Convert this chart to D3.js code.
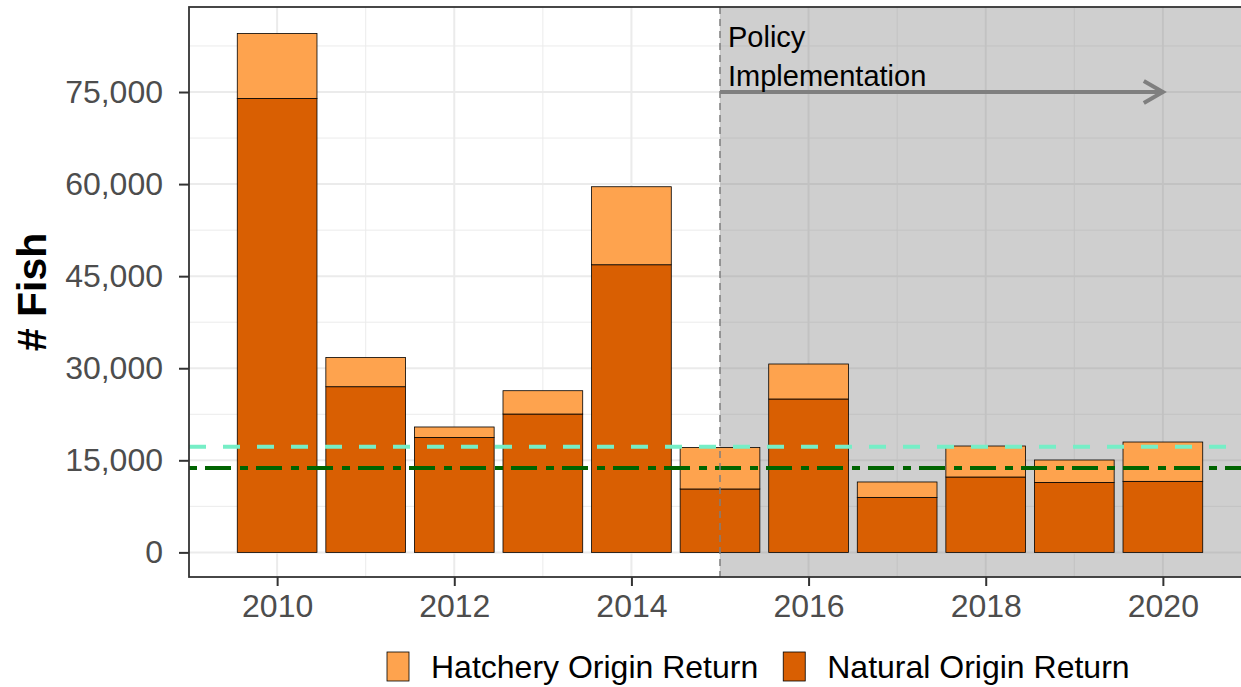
<!DOCTYPE html>
<html>
<head>
<meta charset="utf-8">
<script src="https://cdn.jsdelivr.net/npm/d3@7"></script>
<style>
  body { margin: 0; background: #fff; }
  svg { display: block; font-family: "Liberation Sans", Arial, sans-serif; }
</style>
</head>
<body>
<div class="graph-container"></div>
<script>
// data
const years = [2010, 2011, 2012, 2013, 2014, 2015, 2016, 2017, 2018, 2019, 2020];
const natural = [73950, 26990, 18730, 22540, 46860, 10330, 24990, 8960, 12280, 11400, 11570];
const hatchery = [10590, 4770, 1700, 3800, 12710, 6770, 5700, 2510, 5050, 3650, 6410];
const yTicks = [0, 15000, 30000, 45000, 60000, 75000];
const xTicks = [2010, 2012, 2014, 2016, 2018, 2020];
const refLines = [17220, 13750];
const policyYear = 2015;
const arrowEnd = 2020;
const arrowValue = 75000;
const seriesNames = ["Hatchery Origin Return", "Natural Origin Return"];

// graph constants
const w = 1241;
const h = 687;
const colHatch = '#fea34e';
const colNat = '#d95f02';
const ink = '#333333';

const svg = d3.select('.graph-container')
    .append('svg')
    .attr('width', w)
    .attr('height', h);

// scales
const xScale = d3.scaleLinear()
    .domain([2009.005, 2020.995])
    .range([189, 1251]);
const yScale = d3.scaleLinear()
    .domain([-4010, 88850])
    .range([577, 7]);
const pLeft = xScale.range()[0], pRight = xScale.range()[1];
const pTop = yScale.range()[1], pBottom = yScale.range()[0];
const barW = xScale(0.9) - xScale(0);

// grid
const grid = svg.append('g');
d3.range(7500, 88850, 15000).forEach(v => {
    grid.append('line').attr('x1', pLeft).attr('x2', pRight)
        .attr('y1', yScale(v)).attr('y2', yScale(v))
        .attr('stroke', '#ebebeb').attr('stroke-width', 1);
});
yTicks.forEach(v => {
    grid.append('line').attr('x1', pLeft).attr('x2', pRight)
        .attr('y1', yScale(v)).attr('y2', yScale(v))
        .attr('stroke', '#ebebeb').attr('stroke-width', 2);
});
d3.range(2011, 2021, 2).forEach(v => {
    grid.append('line').attr('y1', pTop).attr('y2', pBottom)
        .attr('x1', xScale(v)).attr('x2', xScale(v))
        .attr('stroke', '#ebebeb').attr('stroke-width', 1);
});
xTicks.forEach(v => {
    grid.append('line').attr('y1', pTop).attr('y2', pBottom)
        .attr('x1', xScale(v)).attr('x2', xScale(v))
        .attr('stroke', '#ebebeb').attr('stroke-width', 2);
});

// shaded policy period
svg.append('rect')
    .attr('x', xScale(policyYear))
    .attr('y', pTop)
    .attr('width', pRight - xScale(policyYear))
    .attr('height', pBottom - pTop)
    .attr('fill', '#808080')
    .attr('fill-opacity', 0.38);

// stacked bars
const rows = years.map((y, i) => ({ year: y, natural: natural[i], hatchery: hatchery[i] }));
const stacked = d3.stack().keys(['natural', 'hatchery'])(rows);
const fills = { natural: colNat, hatchery: colHatch };
stacked.forEach(layer => {
    svg.append('g').selectAll('rect')
        .data(layer)
        .enter()
        .append('rect')
        .attr('x', d => xScale(d.data.year) - barW / 2)
        .attr('y', d => yScale(d[1]))
        .attr('width', barW)
        .attr('height', d => yScale(d[0]) - yScale(d[1]))
        .attr('fill', fills[layer.key])
        .attr('stroke', '#000')
        .attr('stroke-width', 0.8);
});

// reference lines
svg.append('line')
    .attr('x1', pLeft).attr('x2', pRight)
    .attr('y1', yScale(refLines[0])).attr('y2', yScale(refLines[0]))
    .attr('stroke', '#76eec6').attr('stroke-width', 4)
    .attr('stroke-dasharray', '17,17');
svg.append('line')
    .attr('x1', pLeft).attr('x2', pRight)
    .attr('y1', yScale(refLines[1])).attr('y2', yScale(refLines[1]))
    .attr('stroke', '#006400').attr('stroke-width', 4)
    .attr('stroke-dasharray', '26,9,8,8')
    .attr('stroke-dashoffset', 35);

// policy line + arrow
svg.append('line')
    .attr('x1', xScale(policyYear)).attr('x2', xScale(policyYear))
    .attr('y1', pTop).attr('y2', pBottom)
    .attr('stroke', '#7f7f7f').attr('stroke-width', 1.5)
    .attr('stroke-dasharray', '7,5');
const ax1 = xScale(policyYear), ax2 = xScale(arrowEnd), ay = yScale(arrowValue);
svg.append('line')
    .attr('x1', ax1).attr('x2', ax2 - 2)
    .attr('y1', ay).attr('y2', ay)
    .attr('stroke', '#7f7f7f').attr('stroke-width', 4);
const headL = 22, ang = Math.PI / 6;
svg.append('path')
    .attr('d', d3.line()([
        [ax2 - headL * Math.cos(ang), ay - headL * Math.sin(ang)],
        [ax2, ay],
        [ax2 - headL * Math.cos(ang), ay + headL * Math.sin(ang)]
    ]))
    .attr('fill', 'none')
    .attr('stroke', '#7f7f7f').attr('stroke-width', 4)
    .attr('stroke-linejoin', 'miter');
svg.append('text')
    .attr('x', ax1 + 8).attr('y', ay - 45)
    .attr('font-size', 29).attr('fill', '#000')
    .text('Policy');
svg.append('text')
    .attr('x', ax1 + 8).attr('y', ay - 6)
    .attr('font-size', 29).attr('fill', '#000')
    .text('Implementation');

// panel border
svg.append('rect')
    .attr('x', pLeft).attr('y', pTop)
    .attr('width', pRight - pLeft).attr('height', pBottom - pTop)
    .attr('fill', 'none').attr('stroke', ink).attr('stroke-width', 1.8);

// axes
const xAxis = d3.axisBottom(xScale).tickValues(xTicks).tickFormat(d3.format('d'))
    .tickSize(9).tickPadding(8);
const yAxis = d3.axisLeft(yScale).tickValues(yTicks).tickFormat(d3.format(','))
    .tickSize(10).tickPadding(16);
const gx = svg.append('g')
    .attr('transform', `translate(0, ${pBottom})`)
    .call(xAxis);
const gy = svg.append('g')
    .attr('transform', `translate(${pLeft}, 0)`)
    .call(yAxis);
[gx, gy].forEach(g => {
    g.select('.domain').remove();
    g.selectAll('.tick line').attr('stroke', ink).attr('stroke-width', 2);
    g.selectAll('.tick text')
        .attr('fill', '#4d4d4d')
        .attr('font-size', 32)
        .attr('font-family', '"Liberation Sans", Arial, sans-serif');
});

// y title
svg.append('text')
    .text('# Fish')
    .attr('font-size', 41)
    .attr('font-weight', 'bold')
    .attr('text-anchor', 'middle')
    .attr('transform', `translate(46, ${(pTop + pBottom) / 2}) rotate(-90)`);

// legend
const legend = svg.append('g');
let lx = 387;
seriesNames.forEach((name, i) => {
    legend.append('rect')
        .attr('x', lx).attr('y', 652)
        .attr('width', 22).attr('height', 29)
        .attr('fill', i === 0 ? colHatch : colNat)
        .attr('stroke', '#000').attr('stroke-width', 0.8);
    const t = legend.append('text')
        .attr('x', lx + 44).attr('y', 678)
        .attr('font-size', 32)
        .text(name);
    lx += 44 + t.node().getComputedTextLength() + 25;
});
</script>
</body>
</html>
